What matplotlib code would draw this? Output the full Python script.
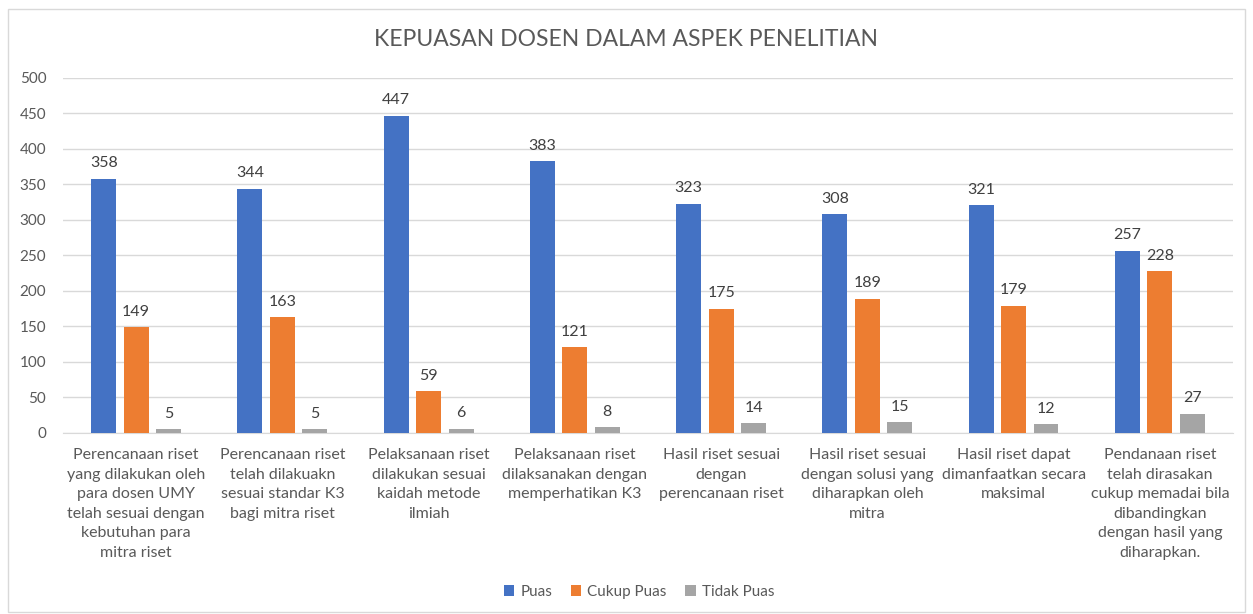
import numpy as np
import matplotlib.pyplot as plt

categories = [
    "Perencanaan riset\nyang dilakukan oleh\npara dosen UMY\ntelah sesuai dengan\nkebutuhan para\nmitra riset",
    "Perencanaan riset\ntelah dilakuakn\nsesuai standar K3\nbagi mitra riset",
    "Pelaksanaan riset\ndilakukan sesuai\nkaidah metode\nilmiah",
    "Pelaksanaan riset\ndilaksanakan dengan\nmemperhatikan K3",
    "Hasil riset sesuai\ndengan\nperencanaan riset",
    "Hasil riset sesuai\ndengan solusi yang\ndiharapkan oleh\nmitra",
    "Hasil riset dapat\ndimanfaatkan secara\nmaksimal",
    "Pendanaan riset\ntelah dirasakan\ncukup memadai bila\ndibandingkan\ndengan hasil yang\ndiharapkan.",
]
puas = [358, 344, 447, 383, 323, 308, 321, 257]
cukup_puas = [149, 163, 59, 121, 175, 189, 179, 228]
tidak_puas = [5, 5, 6, 8, 14, 15, 12, 27]

series = [("Puas", puas, "#4472C4"),
          ("Cukup Puas", cukup_puas, "#ED7D31"),
          ("Tidak Puas", tidak_puas, "#A5A5A5")]

plt.rcParams['font.family'] = ['Lato', 'DejaVu Sans']
txt = "#595959"

fig = plt.figure(figsize=(12.53, 6.14), dpi=100)
fig.patches.append(plt.Rectangle((0.006, 0.004), 0.988, 0.982, transform=fig.transFigure,
                                 fill=False, edgecolor="#D9D9D9", lw=1))
ax = fig.add_axes([0.0503, 0.2948, 0.9337, 0.5782])

x = np.arange(len(categories))
w = 0.17
off = 0.222
for i, (name, vals, col) in enumerate(series):
    pos = x + (i - 1) * off
    ax.bar(pos, vals, w, color=col, label=name, zorder=3)
    for p, v in zip(pos, vals):
        ax.text(p, v + 12, str(v), ha="center", va="bottom", fontsize=11.5, color="#404040")

ax.set_xlim(-0.5, len(categories) - 0.5)
ax.set_ylim(0, 500)
ax.set_yticks(range(0, 501, 50))
ax.yaxis.grid(True, color="#D9D9D9", lw=1, zorder=0)
for s in ["top", "right", "left"]:
    ax.spines[s].set_visible(False)
ax.spines["bottom"].set_color("#D9D9D9")
ax.tick_params(axis="both", length=0, colors=txt, labelsize=11)
ax.tick_params(axis="y", pad=12)
ax.set_xticks(x)
ax.set_xticklabels(categories, fontsize=11.5, color=txt, linespacing=1.5)
ax.tick_params(axis="x", pad=11)

fig.text(0.5, 0.935, "KEPUASAN DOSEN DALAM ASPEK PENELITIAN", ha="center", va="center",
         fontsize=16.5, color=txt)
fig.legend(loc="center", bbox_to_anchor=(0.51, 0.036), ncol=3, frameon=False,
           fontsize=11, handlelength=0.7, handleheight=0.7, columnspacing=1.2,
           handletextpad=0.4, labelcolor=txt)

fig.savefig("out.png", dpi=100)
